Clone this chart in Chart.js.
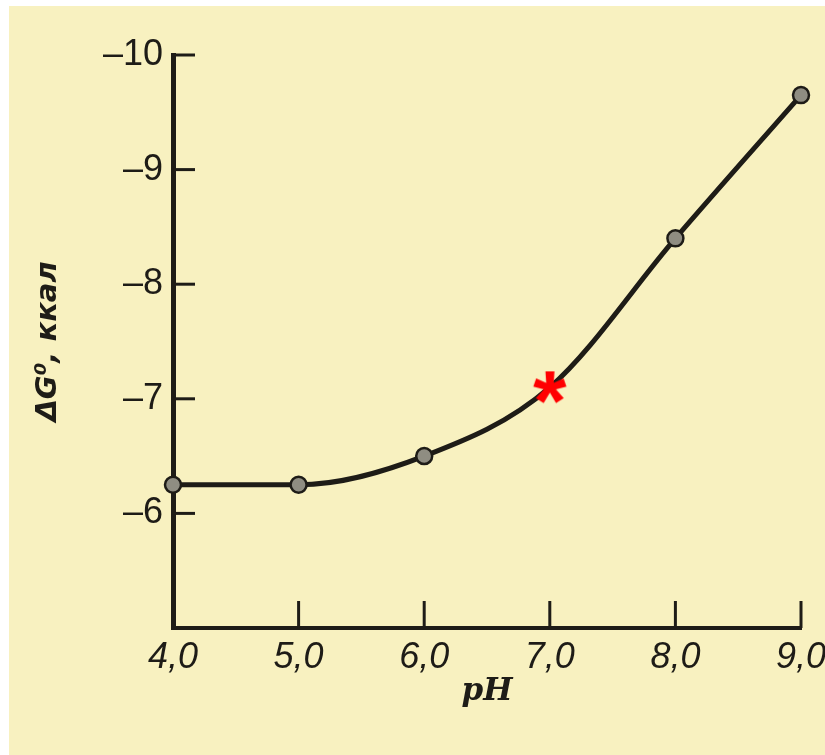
<!DOCTYPE html>
<html>
<head>
<meta charset="utf-8">
<script src="https://cdn.jsdelivr.net/npm/chart.js@4.4.1/dist/chart.umd.min.js"></script>
<style>
  html, body { margin: 0; padding: 0; background: #ffffff; }
  #wrap { position: absolute; left: 9px; top: 6px; width: 816px; height: 749px; background: #f8f1c0; }
</style>
</head>
<body>
<div id="wrap"><canvas id="chart" width="816" height="749"></canvas></div>
<script>
// values
var phValues = [4.0, 5.0, 6.0, 7.0, 8.0, 9.0];
var deltaG = [-6.25, -6.25, -6.5, -7.1, -8.4, -9.65];
var markedPh = [7.0];
var markedG = [-7.1];
var xTicks = [4, 5, 6, 7, 8, 9];
var yTicks = [-10, -9, -8, -7, -6];

var ink = '#1e1c17';

// red asterisk used as point style
function makeStar() {
    var c = document.createElement('canvas');
    c.width = 70; c.height = 70;
    var g = c.getContext('2d');
    g.font = 'bold 86px "Liberation Sans"';
    g.fillStyle = '#ff0000';
    g.textAlign = 'center';
    g.textBaseline = 'alphabetic';
    var m = g.measureText('*');
    var base = 35 + (m.actualBoundingBoxAscent - m.actualBoundingBoxDescent) / 2;
    g.fillText('*', 35, base);
    return c;
}

// small ticks drawn inward from the axes
var innerTicks = {
    id: 'innerTicks',
    afterDraw: function(chart) {
        var ctx = chart.ctx, a = chart.chartArea;
        var xs = chart.scales.x, ys = chart.scales.y;
        ctx.save();
        ctx.strokeStyle = ink;
        ctx.lineWidth = 3;
        xTicks.forEach(function(v) {
            var px = xs.getPixelForValue(v);
            ctx.beginPath();
            ctx.moveTo(px, a.bottom);
            ctx.lineTo(px, a.bottom - 27);
            ctx.stroke();
        });
        yTicks.forEach(function(v) {
            var py = ys.getPixelForValue(v);
            ctx.beginPath();
            ctx.moveTo(a.left, py);
            ctx.lineTo(a.left + 22, py);
            ctx.stroke();
        });
        ctx.restore();
    }
};

var ctx = document.getElementById('chart');
var chart = new Chart(ctx, {
    type: 'line',
    data: {
        datasets: [
            {
                label: 'star',
                data: markedPh.map(function(x, i) { return {x: x, y: markedG[i]}; }),
                pointStyle: makeStar(),
                pointRadius: 20,
                showLine: false,
                clip: false,
                order: 0
            },
            {
                label: 'ΔG',
                data: phValues.map(function(x, i) { return {x: x, y: deltaG[i]}; }),
                borderColor: ink,
                borderWidth: 5,
                cubicInterpolationMode: 'monotone',
                pointRadius: [8, 8, 8, 0, 8, 8],
                pointBackgroundColor: '#8f8d82',
                pointBorderColor: ink,
                pointBorderWidth: 2.5,
                clip: false,
                order: 1
            }
        ]
    },
    options: {
        responsive: false,
        animation: false,
        layout: { padding: { top: 49, right: 24, left: 0, bottom: 0 } },
        plugins: { legend: { display: false }, tooltip: { enabled: false } },
        scales: {
            x: {
                type: 'linear',
                min: 4, max: 9,
                afterBuildTicks: function(s) { s.ticks = xTicks.map(function(v) { return {value: v}; }); },
                afterFit: function(s) { s.height = 127; s.paddingLeft = 0; s.paddingRight = 0; },
                grid: { display: false, drawTicks: false },
                border: { color: ink, width: 4 },
                ticks: {
                    color: ink,
                    padding: 8,
                    maxRotation: 0,
                    font: { family: 'Liberation Sans', size: 36, style: 'italic' },
                    callback: function(v) { return v.toFixed(1).replace('.', ','); }
                },
                title: {
                    display: true,
                    text: 'pH',
                    color: ink,
                    font: { family: 'DejaVu Serif', size: 31, style: 'italic', weight: 'bold' },
                    padding: { top: 0, bottom: 44 }
                }
            },
            y: {
                type: 'linear',
                min: -10, max: -5,
                reverse: true,
                afterBuildTicks: function(s) { s.ticks = yTicks.map(function(v) { return {value: v}; }); },
                afterFit: function(s) { s.width = 164; },
                grid: { display: false, drawTicks: false },
                border: { color: ink, width: 5 },
                ticks: {
                    color: ink,
                    padding: 10,
                    font: { family: 'Liberation Sans', size: 36 },
                    callback: function(v) { return '–' + Math.abs(v); }
                },
                title: {
                    display: true,
                    text: 'ΔG⁰, ккал',
                    color: ink,
                    font: { family: 'DejaVu Sans', size: 29, style: 'italic', weight: 'bold' },
                    padding: { top: 22, bottom: 0 }
                }
            }
        }
    },
    plugins: [innerTicks]
});
</script>
</body>
</html>
